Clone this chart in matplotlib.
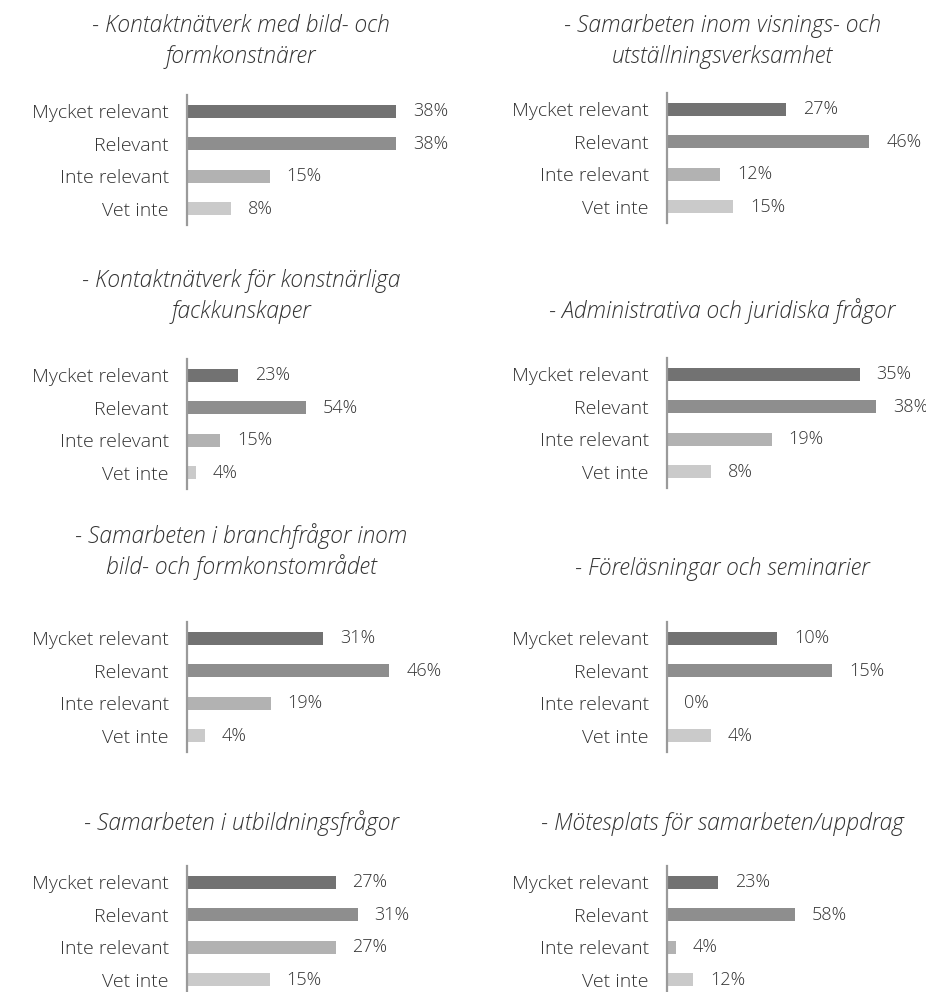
import matplotlib
matplotlib.use("Agg")
import matplotlib.pyplot as plt

# ---- data ----
categories = ["Mycket relevant", "Relevant", "Inte relevant", "Vet inte"]

titles = [
    ["- Kontaktnätverk med bild- och", "formkonstnärer"],
    ["- Samarbeten inom visnings- och", "utställningsverksamhet"],
    ["- Kontaktnätverk för konstnärliga", "fackkunskaper"],
    ["- Administrativa och juridiska frågor"],
    ["- Samarbeten i branchfrågor inom", "bild- och formkonstområdet"],
    ["- Föreläsningar och seminarier"],
    ["- Samarbeten i utbildningsfrågor"],
    ["- Mötesplats för samarbeten/uppdrag"],
]

kontakt_bild = [0.38, 0.38, 0.15, 0.08]
samarb_visning = [0.27, 0.46, 0.12, 0.15]
kontakt_fack = [0.23, 0.54, 0.15, 0.04]
admin_jur = [0.35, 0.38, 0.19, 0.08]
samarb_bransch = [0.31, 0.46, 0.19, 0.04]
forelasning = [0.10, 0.15, 0.00, 0.04]
samarb_utb = [0.27, 0.31, 0.27, 0.15]
motesplats = [0.23, 0.58, 0.04, 0.12]

series = [kontakt_bild, samarb_visning, kontakt_fack, admin_jur,
          samarb_bransch, forelasning, samarb_utb, motesplats]

# axis maxima per panel (auto-scaled in original)
xmax = [0.4, 0.5, 1.0, 0.4, 0.5, 0.2, 0.4, 1.0]

# ---- style / layout ----
W, H = 926, 992
bar_colors = ["#727272", "#8e8e8e", "#b2b2b2", "#cacaca"]
text_color = "#333333"
font = "Open Sans"
weight = "light"

axis_left = [187, 667]
title_cx = [241, 722]
axes_top = [95, 93, 359, 358, 622, 622, 866, 866]
title_baselines = [[32, 63], [32, 63], [287, 318], [318], [543, 574], [575], [830], [830]]
axes_w = 220
axes_h = 130

fig = plt.figure(figsize=(W / 100, H / 100), dpi=100)

for k in range(8):
    col = k % 2
    left = axis_left[col]
    top = axes_top[k]
    ax = fig.add_axes([left / W, 1 - (top + axes_h) / H, axes_w / W, axes_h / H])
    vals = series[k]
    ypos = list(range(len(categories)))
    ax.barh(ypos, vals, height=0.385, color=bar_colors)
    ax.set_ylim(3.5, -0.5)
    ax.set_xlim(0, xmax[k])
    for s in ["top", "right", "bottom"]:
        ax.spines[s].set_visible(False)
    ax.spines["left"].set_color("#9a9a9a")
    ax.spines["left"].set_linewidth(1.6)
    ax.set_xticks([])
    ax.set_yticks(ypos)
    ax.set_yticklabels(categories, fontsize=14, color=text_color, family=font,
                       weight=weight)
    ax.tick_params(axis="y", length=0, pad=13)
    ax.patch.set_visible(False)
    for i, v in enumerate(vals):
        ax.annotate(f"{round(v * 100)}%", xy=(v, i), xytext=(17, 0),
                    textcoords="offset pixels", va="center", ha="left",
                    fontsize=13, color=text_color, family=font, weight=weight,
                    annotation_clip=False)
    for line, yb in zip(titles[k], title_baselines[k]):
        fig.text(title_cx[col] / W, 1 - yb / H, line, ha="center", va="baseline",
                 fontsize=16.5, style="italic", color=text_color, family=font,
                 weight=weight)

fig.savefig("out.png", dpi=100, facecolor="white")
